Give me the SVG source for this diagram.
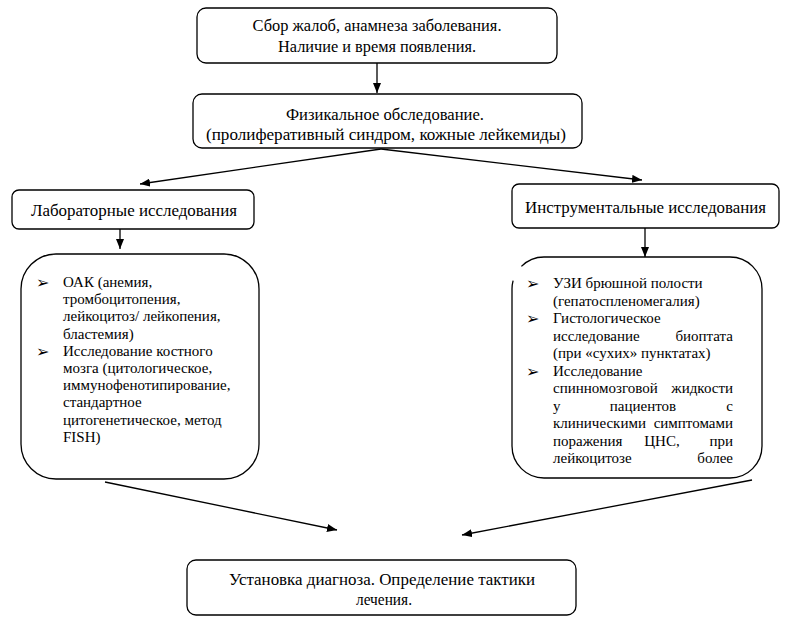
<svg xmlns="http://www.w3.org/2000/svg" width="791" height="624" viewBox="0 0 791 624">
<style>
.box{fill:#fff;stroke:#000;stroke-width:1.3}
.t{font-family:'Liberation Serif','Tinos','Times New Roman','Times','Nimbus Roman','FreeSerif','Noto Serif','DejaVu Serif',serif;font-size:16px;fill:#000}
.c{text-anchor:middle}
.e{text-anchor:end}
.l{font-family:'Liberation Serif','Tinos','Times New Roman','Times','Nimbus Roman','FreeSerif','Noto Serif','DejaVu Serif',serif;font-size:15px;fill:#000}
.b{font-family:'DejaVu Sans',sans-serif;font-size:16px;fill:#000}
.cn{stroke:#000;stroke-width:1.3;fill:none;marker-end:url(#ah)}
</style>
<defs>
<marker id="ah" viewBox="0 0 10 8" refX="10" refY="4" markerWidth="10" markerHeight="8" markerUnits="userSpaceOnUse" orient="auto">
<path d="M0,0 L10,4 L0,8 z" fill="#000"/>
</marker>
</defs>
<rect width="791" height="624" fill="#fff"/>
<g id="connectors">
<line class="cn" x1="377" y1="63" x2="377" y2="93"/>
<line class="cn" x1="381" y1="149" x2="140" y2="184"/>
<line class="cn" x1="381" y1="149" x2="642" y2="180"/>
<line class="cn" x1="120" y1="229" x2="120" y2="249"/>
<line class="cn" x1="645" y1="228" x2="645" y2="257"/>
<line class="cn" x1="105" y1="482" x2="337" y2="530"/>
<line class="cn" x1="752" y1="480" x2="462" y2="535"/>
</g>
<g id="n1">
<rect class="box" x="197" y="8" width="360" height="55" rx="9"/>
<text class="t c" x="377" y="31" textLength="249" lengthAdjust="spacingAndGlyphs">Сбор жалоб, анамнеза заболевания.</text>
<text class="t c" x="377" y="52" textLength="198" lengthAdjust="spacingAndGlyphs">Наличие и время появления.</text>
</g>
<g id="n2">
<rect class="box" x="193" y="94" width="389" height="54" rx="9"/>
<text class="t c" x="385" y="120" textLength="198" lengthAdjust="spacingAndGlyphs">Физикальное обследование.</text>
<text class="t c" x="386" y="140" textLength="360" lengthAdjust="spacingAndGlyphs">(пролиферативный синдром, кожные лейкемиды)</text>
</g>
<g id="n3">
<rect class="box" x="12" y="190" width="242" height="39" rx="7"/>
<text class="t c" x="134" y="216" textLength="206" lengthAdjust="spacingAndGlyphs">Лабораторные исследования</text>
</g>
<g id="n4">
<rect class="box" x="512" y="184" width="267" height="44" rx="7"/>
<text class="t c" x="645.5" y="213" textLength="241" lengthAdjust="spacingAndGlyphs">Инструментальные исследования</text>
</g>
<g id="n5">
<rect class="box" x="21" y="254" width="238" height="225" rx="35"/>
<text class="b" x="36" y="288">➢</text>
<text class="b" x="36" y="357">➢</text>
<text class="l" x="63" y="287">ОАК (анемия,</text>
<text class="l" x="63" y="304.2">тромбоцитопения,</text>
<text class="l" x="63" y="321.4">лейкоцитоз/ лейкопения,</text>
<text class="l" x="63" y="338.6">бластемия)</text>
<text class="l" x="63" y="355.8">Исследование костного</text>
<text class="l" x="63" y="373">мозга (цитологическое,</text>
<text class="l" x="63" y="390.2">иммунофенотипирование,</text>
<text class="l" x="63" y="407.4">стандартное</text>
<text class="l" x="63" y="424.6">цитогенетическое, метод</text>
<text class="l" x="63" y="441.8">FISH)</text>
</g>
<g id="n6">
<path class="box" d="M513.1,280.7 A32,32 0 0 0 512,289 L512,446 A32,32 0 0 0 544,478 L730,478 A32,32 0 0 0 762,446 L762,289 A32,32 0 0 0 730,257 L544,257 A32,32 0 0 0 521.4,266.4"/>
<text class="b" x="526" y="289">➢</text>
<text class="b" x="526" y="324">➢</text>
<text class="b" x="526" y="376.5">➢</text>
<text class="l" x="553" y="288">УЗИ брюшной полости</text>
<text class="l" x="553" y="305.5">(гепатоспленомегалия)</text>
<text class="l" x="553" y="323">Гистологическое</text>
<text class="l" x="553" y="340.5">исследование</text><text class="l e" x="733" y="340.5">биоптата</text>
<text class="l" x="553" y="358">(при «сухих» пунктатах)</text>
<text class="l" x="553" y="375.5">Исследование</text>
<text class="l" x="553" y="393">спинномозговой</text><text class="l e" x="733" y="393">жидкости</text>
<text class="l" x="553" y="410.5">у</text><text class="l c" x="643" y="410.5">пациентов</text><text class="l e" x="733" y="410.5">с</text>
<text class="l" x="553" y="428">клиническими</text><text class="l e" x="733" y="428">симптомами</text>
<text class="l" x="553" y="445.5">поражения</text><text class="l c" x="662" y="445.5">ЦНС,</text><text class="l e" x="733" y="445.5">при</text>
<text class="l" x="553" y="463">лейкоцитозе</text><text class="l e" x="733" y="463">более</text>
</g>
<g id="n7">
<rect class="box" x="187" y="560" width="389" height="55" rx="9"/>
<text class="t c" x="382" y="585" textLength="306" lengthAdjust="spacingAndGlyphs">Установка диагноза. Определение тактики</text>
<text class="t c" x="384" y="605" textLength="56" lengthAdjust="spacingAndGlyphs">лечения.</text>
</g>
</svg>
